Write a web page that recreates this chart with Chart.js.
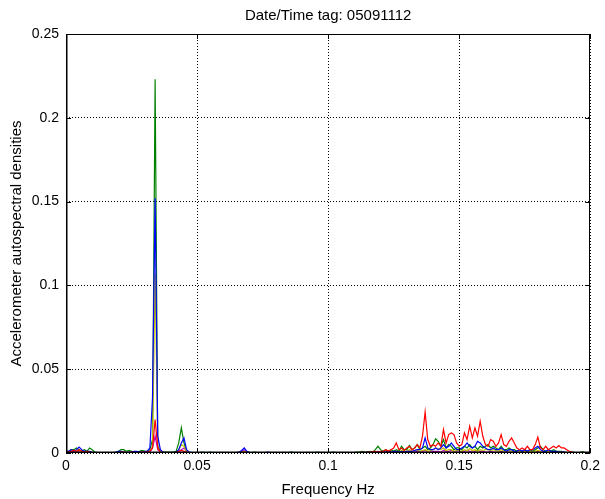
<!DOCTYPE html>
<html>
<head>
<meta charset="utf-8">
<script src="https://cdn.jsdelivr.net/npm/chart.js@4.4.1/dist/chart.umd.min.js"></script>
<style>
  html, body { margin: 0; padding: 0; background: #fff; }
  #wrap { width: 605px; height: 499px; }
</style>
</head>
<body>
<div id="wrap"><canvas id="psdChart" width="605" height="499"></canvas></div>
<script>
// frequency bins: 0 .. 0.2 Hz, 0.001 Hz spacing (201 bins)
const freqStep = 0.001;
const binCount = 201;
const freqs = Array.from({ length: binCount }, (_, i) => +(i * freqStep).toFixed(3));

const xTicks = [0, 0.05, 0.1, 0.15, 0.2];
const yTicks = [0, 0.05, 0.1, 0.15, 0.2, 0.25];

// autospectral densities, one value per bin
const redPsd = [
	0.0005, 0.0005, 0.001, 0.0015, 0.001, 0.002, 0.001, 0.0005, 0.001, 0.0005,   // 0.000
	0.0003, 0.0003, 0.0003, 0.0003, 0.0003, 0.0003, 0.0003, 0.0003, 0.0003, 0.0003,
	0.0003, 0.0005, 0.0005, 0.0003, 0.0003, 0.0005, 0.0003, 0.0003, 0.0003, 0.0005,
	0.0005, 0.0005, 0.001, 0.003, 0.02, 0.003, 0.0005, 0.0003, 0.0003, 0.0003,     // 0.030
	0.0003, 0.0003, 0.0003, 0.0008, 0.0015, 0.001, 0.0005, 0.0003, 0.0003, 0.0003,
	0.0003, 0.0003, 0.0003, 0.0003, 0.0003, 0.0003, 0.0003, 0.0003, 0.0003, 0.0003, // 0.050
	0.0003, 0.0003, 0.0003, 0.0003, 0.0003, 0.0003, 0.0003, 0.0003, 0.0005, 0.0003,
	0.0003, 0.0003, 0.0003, 0.0003, 0.0003, 0.0003, 0.0003, 0.0003, 0.0003, 0.0003,
	0.0003, 0.0003, 0.0003, 0.0003, 0.0003, 0.0003, 0.0003, 0.0003, 0.0003, 0.0003,
	0.0003, 0.0003, 0.0003, 0.0003, 0.0003, 0.0003, 0.0003, 0.0003, 0.0003, 0.0003,
	0.0003, 0.0003, 0.0003, 0.0003, 0.0003, 0.0003, 0.0003, 0.0003, 0.0003, 0.0003, // 0.100
	0.0003, 0.0003, 0.0003, 0.0005, 0.0003, 0.0005, 0.0005, 0.0008, 0.001, 0.0005,
	0.001, 0.001, 0.002, 0.001, 0.002, 0.003, 0.006, 0.002, 0.003, 0.0015,          // 0.120
	0.003, 0.004, 0.002, 0.003, 0.005, 0.003, 0.010, 0.0245, 0.008, 0.004,
	0.005, 0.004, 0.006, 0.004, 0.014, 0.006, 0.011, 0.012, 0.011, 0.006,
	0.004, 0.005, 0.012, 0.008, 0.016, 0.009, 0.015, 0.010, 0.019, 0.010,            // 0.150
	0.005, 0.004, 0.008, 0.007, 0.004, 0.006, 0.011, 0.005, 0.004, 0.007,
	0.009, 0.006, 0.003, 0.002, 0.003, 0.002, 0.004, 0.002, 0.002, 0.005,
	0.0095, 0.003, 0.002, 0.004, 0.002, 0.003, 0.004, 0.003, 0.0045, 0.003,
	0.003, 0.002, 0.001, 0.0005, 0.0003, 0.0003, 0.0003, 0.0003, 0.0003, 0.0003,
	0.0003                                                                             // 0.200
];

const greenPsd = [
	0.0005, 0.001, 0.002, 0.002, 0.003, 0.002, 0.001, 0.002, 0.001, 0.003,
	0.002, 0.0005, 0.0003, 0.0003, 0.0003, 0.0003, 0.0003, 0.0003, 0.0003, 0.0005,
	0.001, 0.002, 0.002, 0.001, 0.0015, 0.001, 0.0005, 0.0005, 0.001, 0.0015,
	0.001, 0.001, 0.002, 0.008, 0.223, 0.004, 0.001, 0.0005, 0.0005, 0.0005,
	0.0005, 0.0005, 0.001, 0.006, 0.015, 0.006, 0.001, 0.0003, 0.0003, 0.0003,
	0.0003, 0.0003, 0.0005, 0.0003, 0.0003, 0.0005, 0.0003, 0.0003, 0.0003, 0.0003,
	0.0003, 0.0003, 0.0003, 0.0003, 0.0003, 0.0003, 0.0003, 0.0005, 0.001, 0.0005,
	0.0003, 0.0003, 0.0005, 0.0003, 0.0003, 0.0003, 0.0003, 0.0003, 0.0003, 0.0003,
	0.0003, 0.0003, 0.0003, 0.0003, 0.0003, 0.0003, 0.0005, 0.0003, 0.0003, 0.0003,
	0.0003, 0.0003, 0.0003, 0.0003, 0.0003, 0.0003, 0.0005, 0.0003, 0.0003, 0.0003,
	0.0003, 0.0003, 0.0005, 0.0003, 0.0003, 0.0003, 0.0003, 0.0003, 0.0003, 0.0003,
	0.0003, 0.0005, 0.0005, 0.001, 0.0005, 0.0005, 0.001, 0.0005, 0.002, 0.004,
	0.002, 0.001, 0.002, 0.001, 0.002, 0.001, 0.002, 0.001, 0.004, 0.002,
	0.002, 0.0045, 0.002, 0.003, 0.005, 0.002, 0.003, 0.004, 0.002, 0.003,
	0.005, 0.0085, 0.007, 0.004, 0.008, 0.003, 0.005, 0.004, 0.002, 0.003,
	0.003, 0.002, 0.004, 0.003, 0.005, 0.003, 0.004, 0.002, 0.004, 0.003,
	0.004, 0.005, 0.003, 0.004, 0.003, 0.002, 0.004, 0.002, 0.002, 0.003,
	0.002, 0.002, 0.001, 0.002, 0.001, 0.002, 0.001, 0.002, 0.001, 0.002,
	0.003, 0.004, 0.002, 0.001, 0.002, 0.001, 0.002, 0.001, 0.001, 0.001,
	0.0005, 0.0003, 0.0003, 0.0005, 0.0003, 0.0003, 0.0003, 0.0008, 0.0003, 0.0003,
	0.0003
];

const bluePsd = [
	0.001, 0.001, 0.002, 0.001, 0.002, 0.0035, 0.002, 0.001, 0.001, 0.001,
	0.0005, 0.0003, 0.0003, 0.0003, 0.0003, 0.0003, 0.0003, 0.0003, 0.0003, 0.0003,
	0.001, 0.001, 0.0005, 0.0003, 0.0005, 0.0005, 0.001, 0.001, 0.0005, 0.0005,
	0.001, 0.001, 0.003, 0.033, 0.152, 0.01, 0.002, 0.0005, 0.0003, 0.0003,
	0.0003, 0.0003, 0.0005, 0.002, 0.006, 0.009, 0.002, 0.0005, 0.0003, 0.0003,
	0.0003, 0.0003, 0.0003, 0.0003, 0.0003, 0.0003, 0.0003, 0.0003, 0.0003, 0.0003,
	0.0003, 0.0003, 0.0003, 0.0003, 0.0003, 0.0003, 0.0005, 0.0015, 0.003, 0.001,
	0.0003, 0.0003, 0.0003, 0.0003, 0.0003, 0.0003, 0.0003, 0.0005, 0.0003, 0.0003,
	0.0003, 0.0003, 0.0003, 0.0003, 0.0003, 0.0003, 0.0003, 0.0003, 0.0003, 0.0003,
	0.0003, 0.0003, 0.0003, 0.0003, 0.0003, 0.0003, 0.0003, 0.0003, 0.0003, 0.0003,
	0.0003, 0.0003, 0.0003, 0.0003, 0.0003, 0.0003, 0.0003, 0.0003, 0.0003, 0.0003,
	0.0003, 0.0003, 0.0003, 0.0003, 0.0003, 0.0005, 0.0003, 0.0005, 0.0005, 0.001,
	0.0005, 0.001, 0.0005, 0.001, 0.0005, 0.001, 0.001, 0.0005, 0.001, 0.0005,
	0.001, 0.001, 0.001, 0.0015, 0.002, 0.002, 0.003, 0.009, 0.003, 0.002,
	0.002, 0.003, 0.002, 0.003, 0.005, 0.003, 0.004, 0.006, 0.004, 0.002,
	0.002, 0.003, 0.004, 0.006, 0.004, 0.003, 0.004, 0.007, 0.006, 0.004,
	0.003, 0.002, 0.002, 0.003, 0.002, 0.002, 0.003, 0.002, 0.001, 0.002,
	0.002, 0.001, 0.001, 0.002, 0.001, 0.002, 0.001, 0.002, 0.002, 0.003,
	0.004, 0.002, 0.001, 0.001, 0.002, 0.001, 0.001, 0.001, 0.0005, 0.0005,
	0.0005, 0.0003, 0.0003, 0.0003, 0.0003, 0.0003, 0.0003, 0.0003, 0.0003, 0.0003,
	0.0003
];

const olivePsd = [
	0.0002, 0.0005, 0.001, 0.0005, 0.001, 0.0015, 0.0005, 0.0005, 0.0005, 0.001,
	0.0005, 0.0002, 0.0002, 0.0002, 0.0002, 0.0002, 0.0002, 0.0002, 0.0002, 0.0002,
	0.0005, 0.0005, 0.0005, 0.0002, 0.0002, 0.0002, 0.0005, 0.0005, 0.0002, 0.0002,
	0.0005, 0.0005, 0.001, 0.004, 0.107, 0.003, 0.0005, 0.0002, 0.0002, 0.0002,
	0.0002, 0.0002, 0.0002, 0.002, 0.005, 0.004, 0.001, 0.0002, 0.0002, 0.0002,
	0.0002, 0.0002, 0.0002, 0.0002, 0.0002, 0.0002, 0.0002, 0.0002, 0.0002, 0.0002,
	0.0002, 0.0002, 0.0002, 0.0002, 0.0002, 0.0002, 0.0002, 0.0005, 0.001, 0.0005,
	0.0002, 0.0002, 0.0002, 0.0002, 0.0002, 0.0002, 0.0002, 0.0002, 0.0002, 0.0002,
	0.0002, 0.0002, 0.0002, 0.0002, 0.0002, 0.0002, 0.0002, 0.0002, 0.0002, 0.0002,
	0.0002, 0.0002, 0.0002, 0.0002, 0.0002, 0.0002, 0.0002, 0.0002, 0.0002, 0.0002,
	0.0002, 0.0002, 0.0002, 0.0002, 0.0002, 0.0002, 0.0002, 0.0002, 0.0002, 0.0002,
	0.0002, 0.0002, 0.0002, 0.0002, 0.0002, 0.0002, 0.0005, 0.0002, 0.0005, 0.001,
	0.0005, 0.0005, 0.001, 0.0005, 0.001, 0.0005, 0.001, 0.0005, 0.0015, 0.001,
	0.001, 0.002, 0.001, 0.0015, 0.002, 0.001, 0.0015, 0.002, 0.001, 0.0015,
	0.002, 0.003, 0.0025, 0.002, 0.003, 0.0015, 0.002, 0.002, 0.001, 0.0015,
	0.0015, 0.001, 0.002, 0.0015, 0.0025, 0.0015, 0.002, 0.001, 0.002, 0.0015,
	0.002, 0.002, 0.0015, 0.002, 0.0015, 0.001, 0.002, 0.001, 0.001, 0.0015,
	0.001, 0.001, 0.0005, 0.001, 0.0005, 0.001, 0.0005, 0.001, 0.0005, 0.001,
	0.0015, 0.001, 0.001, 0.0005, 0.001, 0.0005, 0.0005, 0.0005, 0.0005, 0.0005,
	0.0002, 0.0002, 0.0002, 0.0002, 0.0002, 0.0002, 0.0002, 0.0002, 0.0002, 0.0002,
	0.0002
];

const magentaPsd = [
	0.0002, 0.0002, 0.0005, 0.0005, 0.0005, 0.001, 0.0005, 0.0002, 0.0005, 0.0005,
	0.0002, 0.0002, 0.0002, 0.0002, 0.0002, 0.0002, 0.0002, 0.0002, 0.0002, 0.0002,
	0.0002, 0.0005, 0.0002, 0.0002, 0.0002, 0.0002, 0.0002, 0.0002, 0.0002, 0.0002,
	0.0002, 0.0005, 0.0005, 0.003, 0.01, 0.002, 0.0005, 0.0002, 0.0002, 0.0002,
	0.0002, 0.0002, 0.0002, 0.001, 0.002, 0.003, 0.001, 0.0002, 0.0002, 0.0002,
	0.0002, 0.0002, 0.0002, 0.0002, 0.0002, 0.0002, 0.0002, 0.0002, 0.0002, 0.0002,
	0.0002, 0.0002, 0.0002, 0.0002, 0.0002, 0.0002, 0.0002, 0.001, 0.002, 0.0005,
	0.0002, 0.0002, 0.0002, 0.0002, 0.0002, 0.0002, 0.0002, 0.0002, 0.0002, 0.0002,
	0.0002, 0.0002, 0.0002, 0.0002, 0.0002, 0.0002, 0.0002, 0.0002, 0.0002, 0.0002,
	0.0002, 0.0002, 0.0002, 0.0002, 0.0002, 0.0002, 0.0002, 0.0002, 0.0002, 0.0002,
	0.0002, 0.0002, 0.0002, 0.0002, 0.0002, 0.0002, 0.0002, 0.0002, 0.0002, 0.0002,
	0.0002, 0.0002, 0.0002, 0.0002, 0.0002, 0.0002, 0.0002, 0.0002, 0.0005, 0.0005,
	0.0005, 0.0002, 0.0005, 0.0002, 0.0005, 0.0005, 0.0005, 0.0002, 0.0005, 0.0005,
	0.0005, 0.001, 0.0005, 0.0005, 0.001, 0.0005, 0.001, 0.0015, 0.0005, 0.0005,
	0.001, 0.001, 0.001, 0.0005, 0.0015, 0.001, 0.001, 0.0015, 0.001, 0.0005,
	0.0005, 0.001, 0.001, 0.0015, 0.001, 0.0005, 0.001, 0.0015, 0.001, 0.001,
	0.0005, 0.0005, 0.001, 0.0005, 0.0005, 0.0005, 0.001, 0.0005, 0.0005, 0.0005,
	0.0005, 0.0005, 0.0002, 0.0005, 0.0002, 0.0005, 0.0002, 0.0005, 0.0002, 0.0005,
	0.001, 0.0005, 0.0002, 0.0002, 0.0005, 0.0002, 0.0002, 0.0002, 0.0002, 0.0002,
	0.0002, 0.0002, 0.0002, 0.0002, 0.0002, 0.0002, 0.0002, 0.0002, 0.0002, 0.0002,
	0.0002
];

// 한 채널씩 dataset으로 (order가 작을수록 위에 그려짐)
const channels = [
	{ label: 'ch1', values: redPsd, color: '#ff0000', order: 0 },
	{ label: 'ch2', values: bluePsd, color: '#0000ff', order: 1 },
	{ label: 'ch3', values: olivePsd, color: '#bfbf00', order: 2 },
	{ label: 'ch4', values: magentaPsd, color: '#bf00bf', order: 4 },
	{ label: 'ch5', values: greenPsd, color: '#008000', order: 3 }
];

const textFont = 'Arial, "Liberation Sans", Helvetica, sans-serif';

// 박스 테두리 + 안쪽 눈금 + 제목
const framePlugin = {
	id: 'frame',
	afterDatasetsDraw(chart) {
		const { ctx, chartArea: a, scales } = chart;
		ctx.save();
		ctx.strokeStyle = '#000';
		ctx.lineWidth = 1;
		ctx.strokeRect(Math.round(a.left) + 0.5, Math.round(a.top) + 0.5,
			Math.round(a.width) - 1, Math.round(a.height) - 1);
		// 왼쪽/아래 축은 조금 더 굵게
		ctx.beginPath();
		ctx.moveTo(Math.round(a.left) + 1, a.top);
		ctx.lineTo(Math.round(a.left) + 1, Math.round(a.bottom) - 1);
		ctx.lineTo(a.right, Math.round(a.bottom) - 1);
		ctx.stroke();

		ctx.beginPath();
		xTicks.forEach(v => {
			const px = Math.round(scales.x.getPixelForValue(v)) + 0.5;
			ctx.moveTo(px, a.bottom); ctx.lineTo(px, a.bottom - 5);
			ctx.moveTo(px, a.top); ctx.lineTo(px, a.top + 5);
		});
		yTicks.forEach(v => {
			const py = Math.round(scales.y.getPixelForValue(v)) + 0.5;
			ctx.moveTo(a.left, py); ctx.lineTo(a.left + 5, py);
			ctx.moveTo(a.right, py); ctx.lineTo(a.right - 5, py);
		});
		ctx.stroke();

		ctx.fillStyle = '#000';
		ctx.font = '15px ' + textFont;
		ctx.textAlign = 'center';
		ctx.textBaseline = 'middle';
		ctx.fillText('Date/Time tag: 05091112', (a.left + a.right) / 2, 16);
		ctx.restore();
	}
};

const psdCtx = document.getElementById('psdChart').getContext('2d');
window.psdChartInstance = new Chart(psdCtx, {
	type: 'line',
	data: {
		datasets: channels.map(ch => ({
			label: ch.label,
			data: freqs.map((f, i) => ({ x: f, y: ch.values[i] })),
			borderColor: ch.color,
			borderWidth: 1.2,
			pointRadius: 0,
			fill: false,
			tension: 0,
			order: ch.order
		}))
	},
	options: {
		responsive: false,
		animation: false,
		layout: { padding: { top: 34, right: 9, left: 0, bottom: 0 } },
		plugins: {
			legend: { display: false },
			tooltip: { enabled: false }
		},
		scales: {
			x: {
				type: 'linear',
				min: 0,
				max: 0.2,
				afterBuildTicks: s => { s.ticks = xTicks.map(v => ({ value: v })); },
				afterFit: s => { s.height = 46; },
				ticks: {
					color: '#000',
					font: { size: 14, family: textFont },
					padding: 5,
					maxRotation: 0,
					callback: v => String(+v.toFixed(2))
				},
				grid: { color: '#000', lineWidth: 1, drawTicks: false },
				border: { display: false, dash: [1, 2] },
				title: {
					display: true,
					text: 'Frequency Hz',
					color: '#000',
					font: { size: 15, family: textFont },
					padding: { top: 3, bottom: 0 }
				}
			},
			y: {
				type: 'linear',
				min: 0,
				max: 0.25,
				afterBuildTicks: s => { s.ticks = yTicks.map(v => ({ value: v })); },
				afterFit: s => { s.width = 66; },
				ticks: {
					color: '#000',
					font: { size: 14, family: textFont },
					padding: 7,
					callback: v => String(+v.toFixed(2))
				},
				grid: { color: '#000', lineWidth: 1, drawTicks: false },
				border: { display: false, dash: [1, 2] },
				title: {
					display: true,
					text: 'Accelerometer autospectral densities',
					color: '#000',
					font: { size: 15, family: textFont },
					padding: { top: 8, bottom: 0 }
				}
			}
		}
	},
	plugins: [framePlugin]
});
</script>
</body>
</html>
